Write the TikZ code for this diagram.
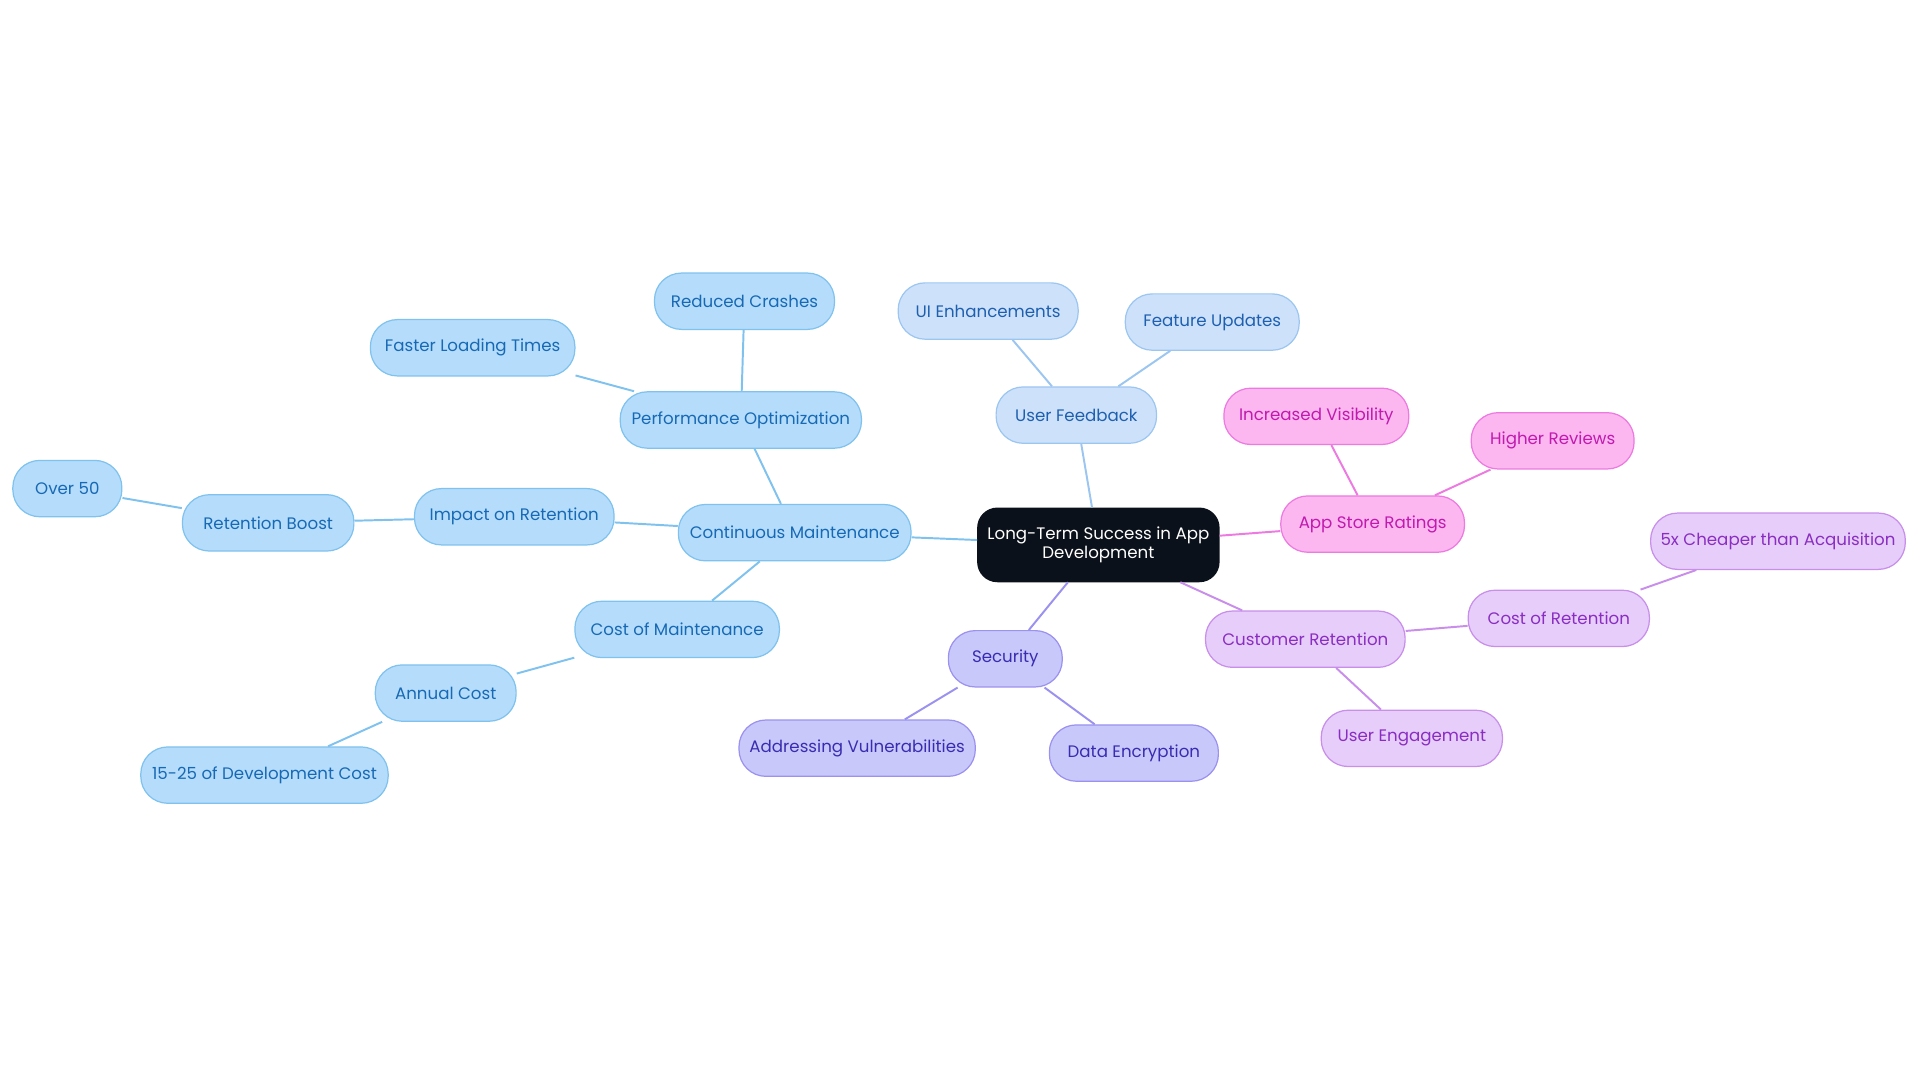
\documentclass[tikz,border=0pt]{standalone}
\usepackage{fontspec}
\setmainfont{Poppins}
\definecolor{bF}{HTML}{B5DDFB}\definecolor{bD}{HTML}{80C2EE}\definecolor{bT}{HTML}{1769B5}
\definecolor{uF}{HTML}{CDE2FA}\definecolor{uD}{HTML}{9CC6F0}\definecolor{uT}{HTML}{1E5FB0}
\definecolor{pF}{HTML}{FCB6F0}\definecolor{pD}{HTML}{EC7AE0}\definecolor{pT}{HTML}{C01AAE}
\definecolor{lF}{HTML}{E7CDF9}\definecolor{lD}{HTML}{C88EEA}\definecolor{lT}{HTML}{8A2DC2}
\definecolor{sF}{HTML}{C9C8FB}\definecolor{sD}{HTML}{9A92EE}\definecolor{sT}{HTML}{3A2CB0}
\definecolor{rF}{HTML}{0B111A}
\tikzset{
 nd/.style={rounded corners=11pt,minimum height=23pt,inner xsep=0pt,line width=0.5pt,font=\fontsize{6.8}{8}\selectfont,align=center},
 bn/.style={nd,fill=bF,draw=bD,text=bT},
 un/.style={nd,fill=uF,draw=uD,text=uT},
 pn/.style={nd,fill=pF,draw=pD,text=pT},
 ln/.style={nd,fill=lF,draw=lD,text=lT},
 sn/.style={nd,fill=sF,draw=sD,text=sT},
 be/.style={draw=bD,line width=0.8pt},
 ue/.style={draw=uD,line width=0.8pt},
 pe/.style={draw=pD,line width=0.8pt},
 le/.style={draw=lD,line width=0.8pt},
 se/.style={draw=sD,line width=0.8pt},
}
\begin{document}
\begin{tikzpicture}[x=0.5pt,y=-0.5pt]
\useasboundingbox (0,0) rectangle (1568,884);
\node[nd,fill=rF,draw=rF,text=white,minimum width=98.5pt,minimum height=30pt,rounded corners=8pt] (root) at (897,445) {Long-Term Success in App\\Development};
\node[bn,minimum width=95pt] (cm) at (649,435) {Continuous Maintenance};
\node[bn,minimum width=98.5pt] (po) at (605,343) {Performance Optimization};
\node[bn,minimum width=73.5pt] (rc) at (608,246) {Reduced Crashes};
\node[bn,minimum width=83.5pt] (fl) at (386,284) {Faster Loading Times};
\node[bn,minimum width=81.5pt] (ir) at (420,422) {Impact on Retention};
\node[bn,minimum width=70pt] (rb) at (219,427) {Retention Boost};
\node[bn,minimum width=44.5pt] (o5) at (55,399) {Over 50};
\node[bn,minimum width=83.5pt] (cmt) at (553,514) {Cost of Maintenance};
\node[bn,minimum width=57.5pt] (ac) at (364,566) {Annual Cost};
\node[bn,minimum width=101pt] (dc) at (216,633) {15-25 of Development Cost};
\node[un,minimum width=65.5pt] (uf) at (879,339) {User Feedback};
\node[un,minimum width=73.5pt] (ui) at (807,254) {UI Enhancements};
\node[un,minimum width=71pt] (fu) at (990,263) {Feature Updates};
\node[pn,minimum width=75pt] (as) at (1121,428) {App Store Ratings};
\node[pn,minimum width=75.5pt] (iv) at (1075,340) {Increased Visibility};
\node[pn,minimum width=66.5pt] (hr) at (1268,360) {Higher Reviews};
\node[ln,minimum width=81.5pt] (cr) at (1066,522) {Customer Retention};
\node[ln,minimum width=74pt] (cor) at (1273,505) {Cost of Retention};
\node[ln,minimum width=104pt] (ch) at (1452,442) {5x Cheaper than Acquisition};
\node[ln,minimum width=74pt] (ue) at (1153,603) {User Engagement};
\node[sn,minimum width=46.5pt] (se) at (821,538) {Security};
\node[sn,minimum width=96.5pt] (av) at (700,611) {Addressing Vulnerabilities};
\node[sn,minimum width=69pt] (de) at (926,615) {Data Encryption};
\path[be] (root) -- (cm);
\path[be] (cm) -- (po); \path[be] (po) -- (rc); \path[be] (po) -- (fl);
\path[be] (cm) -- (ir); \path[be] (ir) -- (rb); \path[be] (rb) -- (o5);
\path[be] (cm) -- (cmt); \path[be] (cmt) -- (ac); \path[be] (ac) -- (dc);
\path[ue] (root) -- (uf); \path[ue] (uf) -- (ui); \path[ue] (uf) -- (fu);
\path[pe] (root) -- (as); \path[pe] (as) -- (iv); \path[pe] (as) -- (hr);
\path[le] (root) -- (cr); \path[le] (cr) -- (cor); \path[le] (cor) -- (ch); \path[le] (cr) -- (ue);
\path[se] (root) -- (se); \path[se] (se) -- (av); \path[se] (se) -- (de);
\end{tikzpicture}
\end{document}
